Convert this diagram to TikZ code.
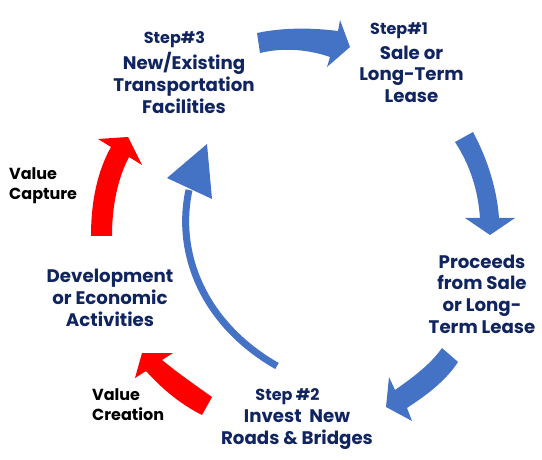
\documentclass[tikz,border=0pt]{standalone}
\usepackage{fontspec}
\setmainfont{Poppins}
\definecolor{navy}{RGB}{16,36,96}
\definecolor{arrowblue}{RGB}{68,114,196}
\definecolor{arrowred}{RGB}{255,0,0}
\begin{document}
\begin{tikzpicture}[x=1pt,y=-1pt,
  lbl/.style={text=navy, font=\bfseries\fontsize{18.2}{21.7}\selectfont, align=center, inner sep=0pt, anchor=base},
  steplbl/.style={text=navy, font=\bfseries\fontsize{16}{19}\selectfont, inner sep=0pt, anchor=base},
  vallbl/.style={text=black, font=\bfseries\fontsize{16}{19.5}\selectfont, align=left, inner sep=0pt, anchor=base west},
  bluearrow/.style={fill=arrowblue},
  redarrow/.style={fill=arrowred},
  thinarc/.style={draw=arrowblue, line width=7pt}]
\useasboundingbox (0,0) rectangle (542,460);

% labels (multi-line nodes: base = baseline of last line)
\node[steplbl] (s3) at (174.5,43.3) {Step\#3};
\node[lbl] (t3) at (184,113.4) {New/Existing\\Transportation\\Facilities};
\node[steplbl] (s1) at (399,35) {Step\#1};
\node[lbl] (t1) at (411.5,102.7) {Sale or\\Long-Term\\Lease};
\node[lbl] (pr) at (482,333.3) {Proceeds\\from Sale\\or Long-\\Term Lease};
\node[steplbl] (s2) at (287.5,400) {Step \#2};
\node[lbl] (t2) at (297,444.2) {Invest\ \ New\\Roads \& Bridges};
\node[lbl] (dev) at (110,326.2) {Development\\or Economic\\Activities};
\node[vallbl] (vc) at (9,199.3) {Value\\Capture};
\node[vallbl] (vcr) at (92,420) {Value\\Creation};

% top blue arrow
\fill[bluearrow] (257,33) .. controls (285,27) and (315,28) .. (338,31)
  -- (340,20) -- (350,47) -- (327,67) -- (330,57)
  .. controls (310,50) and (285,47) .. (260,53) -- cycle;
% right blue arrow
\fill[bluearrow] (455,142) -- (473,132) .. controls (488,160) and (497,190) .. (499,218)
  -- (515,218) -- (490,235) -- (465,218) -- (480,218)
  .. controls (478,190) and (470,165) .. (455,142) -- cycle;
% bottom-right blue arrow
\fill[bluearrow] (442,348) .. controls (430,365) and (412,378) .. (395,390)
  -- (389,377) -- (386,407) -- (412,421) -- (407,408)
  .. controls (425,396) and (445,382) .. (458,362) -- cycle;
% red bottom arrow
\fill[redarrow] (212,397) .. controls (195,385) and (178,373) .. (162,360)
  -- (173,353) -- (142,353) -- (135,378) -- (146,371)
  .. controls (163,390) and (182,405) .. (202,415) -- cycle;
% red left arrow
\fill[redarrow] (91,236) .. controls (91,200) and (98,170) .. (111,147)
  -- (98,139) -- (128,137) -- (142,165) -- (129,157)
  .. controls (118,178) and (112,205) .. (112,236) -- cycle;
% thin blue arc with head
\coordinate (arcstart) at (277,366);
\coordinate (arcend) at (189,190);
\draw[thinarc] (arcstart) .. controls (205,325) and (175,255) .. (arcend);
\fill[bluearrow] (167,178) -- (207,144) -- (212,199) -- cycle;
\end{tikzpicture}
\end{document}
